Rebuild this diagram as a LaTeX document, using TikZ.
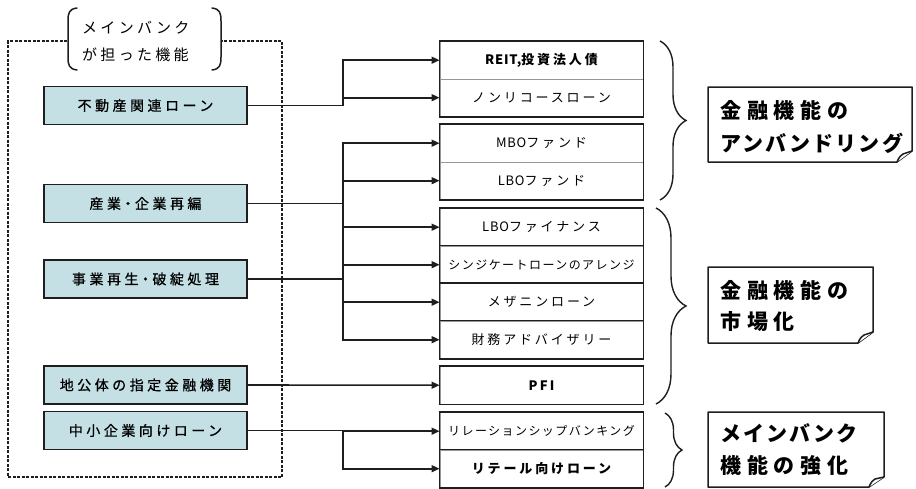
\documentclass[tikz,border=0pt]{standalone}
\usepackage{fontspec}
\setmainfont{Noto Sans CJK JP}
\newfontfamily\lbfont[LetterSpace=25,FakeBold=0.8]{Noto Sans CJK JP}
\newfontfamily\lbplain[FakeBold=0.8]{Noto Sans CJK JP}
\newfontfamily\rbfont[LetterSpace=22]{Noto Sans CJK JP}
\newfontfamily\rbplain[LetterSpace=6]{Noto Sans CJK JP}
\newfontfamily\rbnarrow[LetterSpace=12]{Noto Sans CJK JP}
\newfontfamily\labfont[LetterSpace=22]{Noto Sans CJK JP}
\newfontfamily\calkanji[LetterSpace=28]{Noto Sans CJK JP}
\newfontfamily\calkana[LetterSpace=10]{Noto Sans CJK JP}
\usetikzlibrary{arrows.meta,decorations.pathreplacing,calc}
\definecolor{boxblue}{RGB}{196,224,228}
\definecolor{lineg}{RGB}{30,30,30}
\definecolor{divg}{RGB}{150,150,150}
\begin{document}
\begin{tikzpicture}[x=1pt,y=-1pt,
  leftbox/.style={draw=lineg, line width=1.5pt, fill=boxblue, minimum width=203pt,
    minimum height=38pt, inner sep=0pt, font=\lbfont\fontsize{14}{16}\selectfont},
  rowbox/.style={draw=divg, line width=0.9pt, minimum width=203pt, minimum height=37.5pt,
    inner sep=0pt, anchor=north, font=\rbfont\fontsize{13}{15}\selectfont},
  rownarrow/.style={font=\rbnarrow\fontsize{12}{14}\selectfont},
  rowbold/.style={font=\rbfont\bfseries\fontsize{13}{15}\selectfont},
  frame/.style={draw=lineg, line width=1.5pt},
  conn/.style={draw=lineg, line width=1.6pt},
  arr/.style={conn, -{Triangle[length=8pt,width=7pt]}},
  dashbox/.style={draw=lineg, line width=2pt, dash pattern=on 3pt off 1.5pt},
  paren/.style={draw=lineg, line width=1.5pt, line cap=round},
  brc/.style={draw=lineg, line width=1.4pt, decorate},
  callout/.style={draw=lineg, line width=1.5pt, fill=white, line join=round},
  caltext/.style={anchor=west, inner sep=0pt},
  labtext/.style={anchor=west, inner sep=0pt, font=\labfont\fontsize{15}{17}\selectfont}
]
\useasboundingbox (0,0) rectangle (916,488);

% dashed frame
\draw[dashbox] (67,41) -- (8,41) -- (8,477) -- (282,477) -- (282,41) -- (222,41);
% label with parens
\draw[paren] (77,8) .. controls (69,9) and (68,13) .. (68,21) -- (68,57) .. controls (68,65) and (69,69) .. (77,70);
\draw[paren] (212,8) .. controls (220,9) and (221,13) .. (221,21) -- (221,57) .. controls (221,65) and (220,69) .. (212,70);
\node[labtext] (lab1) at (82,28) {メインバンク};
\node[labtext] (lab2) at (82,55) {が担った機能};

% left boxes
\node[leftbox] (L1) at (145.5,105.5) {不動産関連ローン};
\node[leftbox] (L2) at (145.5,203.5) {産業{\lbplain ・}企業再編};
\node[leftbox] (L3) at (145.5,279) {事業再生{\lbplain ・}破綻処理};
\node[leftbox] (L4) at (145.5,385) {地公体の指定金融機関};
\node[leftbox] (L5) at (145.5,430.5) {中小企業向けローン};

% right rows
\node[rowbox,rowbold] (R1) at (541.5,41) {{\rbplain\bfseries REIT,}投資法人債};
\node[rowbox] (R2) at (541.5,78.5) {ノンリコースローン};
\node[rowbox] (R3) at (541.5,124) {{\rbplain MBO}ファンド};
\node[rowbox] (R4) at (541.5,161.5) {{\rbplain LBO}ファンド};
\node[rowbox] (R5) at (541.5,208) {{\rbplain LBO}ファイナンス};
\node[rowbox,rownarrow] (R6) at (541.5,245.5) {シンジケートローンのアレンジ};
\node[rowbox] (R7) at (541.5,283) {メザニンローン};
\node[rowbox] (R8) at (541.5,320.5) {財務アドバイザリー};
\node[rowbox,rowbold] (R9) at (541.5,366) {P\,F\,I};
\node[rowbox,rownarrow] (R10) at (541.5,412) {リレーションシップバンキング};
\node[rowbox,rowbold] (R11) at (541.5,449.5) {リテール向けローン};

% group frames
\draw[frame] (R1.north west) rectangle (R2.south east);
\draw[frame] (R3.north west) rectangle (R4.south east);
\draw[frame] (R5.north west) rectangle (R8.south east);
\draw[frame] (R6.north west) -- (R6.north east);
\draw[frame] (R7.north west) -- (R7.north east);
\draw[frame] (R8.north west) -- (R8.north east);
\draw[frame] (R9.north west) rectangle (R9.south east);
\draw[frame] (R10.north west) rectangle (R11.south east);
\draw[frame] (R11.north west) -- (R11.north east);

% connectors
\coordinate (b1) at (343,105.5);
\coordinate (b2) at (343,203.5);
\coordinate (b3) at (343,279);
\coordinate (b5) at (343,430.5);
\draw[conn] (L1.east) -- (b1);
\draw[arr] (b1) |- (R1.west);
\draw[arr] (b1) |- (R2.west);
\draw[conn] (L2.east) -- (b2);
\draw[conn] (L3.east) -- (b3);
\draw[conn] (b2) -- (b3);
\draw[arr] (b2) |- (R3.west);
\draw[arr] (b2) |- (R4.west);
\draw[arr] (b2) |- (R5.west);
\draw[arr] (b3) |- (R6.west);
\draw[arr] (b3) |- (R7.west);
\draw[arr] (b3) |- (R8.west);
\draw[arr] (L4.east) -- (R9.west);
\draw[conn] (L5.east) -- (b5);
\draw[arr] (b5) |- (R10.west);
\draw[arr] (b5) |- (R11.west);

% braces
\coordinate (br1a) at (660,41);
\coordinate (br1b) at (660,200);
\coordinate (br2a) at (656,208);
\coordinate (br2b) at (656,404);
\coordinate (br3a) at (665,413);
\coordinate (br3b) at (665,487);
\draw[brc, decoration={brace, amplitude=26pt}] (br1a) -- (br1b);
\draw[brc, decoration={brace, amplitude=30pt}] (br2a) -- (br2b);
\draw[brc, decoration={brace, amplitude=17pt}] (br3a) -- (br3b);

% callouts
\draw[callout] (708,87) -- (912,87) -- (912,151) -- (897,162) -- (708,162) -- cycle;
\draw[callout] (897,162) .. controls (899,157) and (901,155) .. (903,154) -- (912,151);
\node[caltext, font=\calkanji\bfseries\fontsize{21}{24}\selectfont] (C1a) at (720,110) {金融機能の};
\node[caltext, font=\calkana\bfseries\fontsize{21}{24}\selectfont] (C1b) at (720,143) {アンバンドリング};

\draw[callout] (708,267) -- (873,267) -- (873,332) -- (858,343) -- (708,343) -- cycle;
\draw[callout] (858,343) .. controls (860,338) and (862,336) .. (864,335) -- (873,332);
\node[caltext, font=\calkanji\bfseries\fontsize{21}{24}\selectfont] (C2a) at (720,290) {金融機能の};
\node[caltext, font=\calkanji\bfseries\fontsize{21}{24}\selectfont] (C2b) at (720,322) {市場化};

\draw[callout] (708,412) -- (884,412) -- (884,477) -- (869,487) -- (708,487) -- cycle;
\draw[callout] (869,487) .. controls (871,482) and (873,480) .. (875,479) -- (884,477);
\node[caltext, font=\calkana\bfseries\fontsize{21}{24}\selectfont] (C3a) at (720,433) {メインバンク};
\node[caltext, font=\calkanji\bfseries\fontsize{21}{24}\selectfont] (C3b) at (720,465) {機能の強化};
\end{tikzpicture}
\end{document}
